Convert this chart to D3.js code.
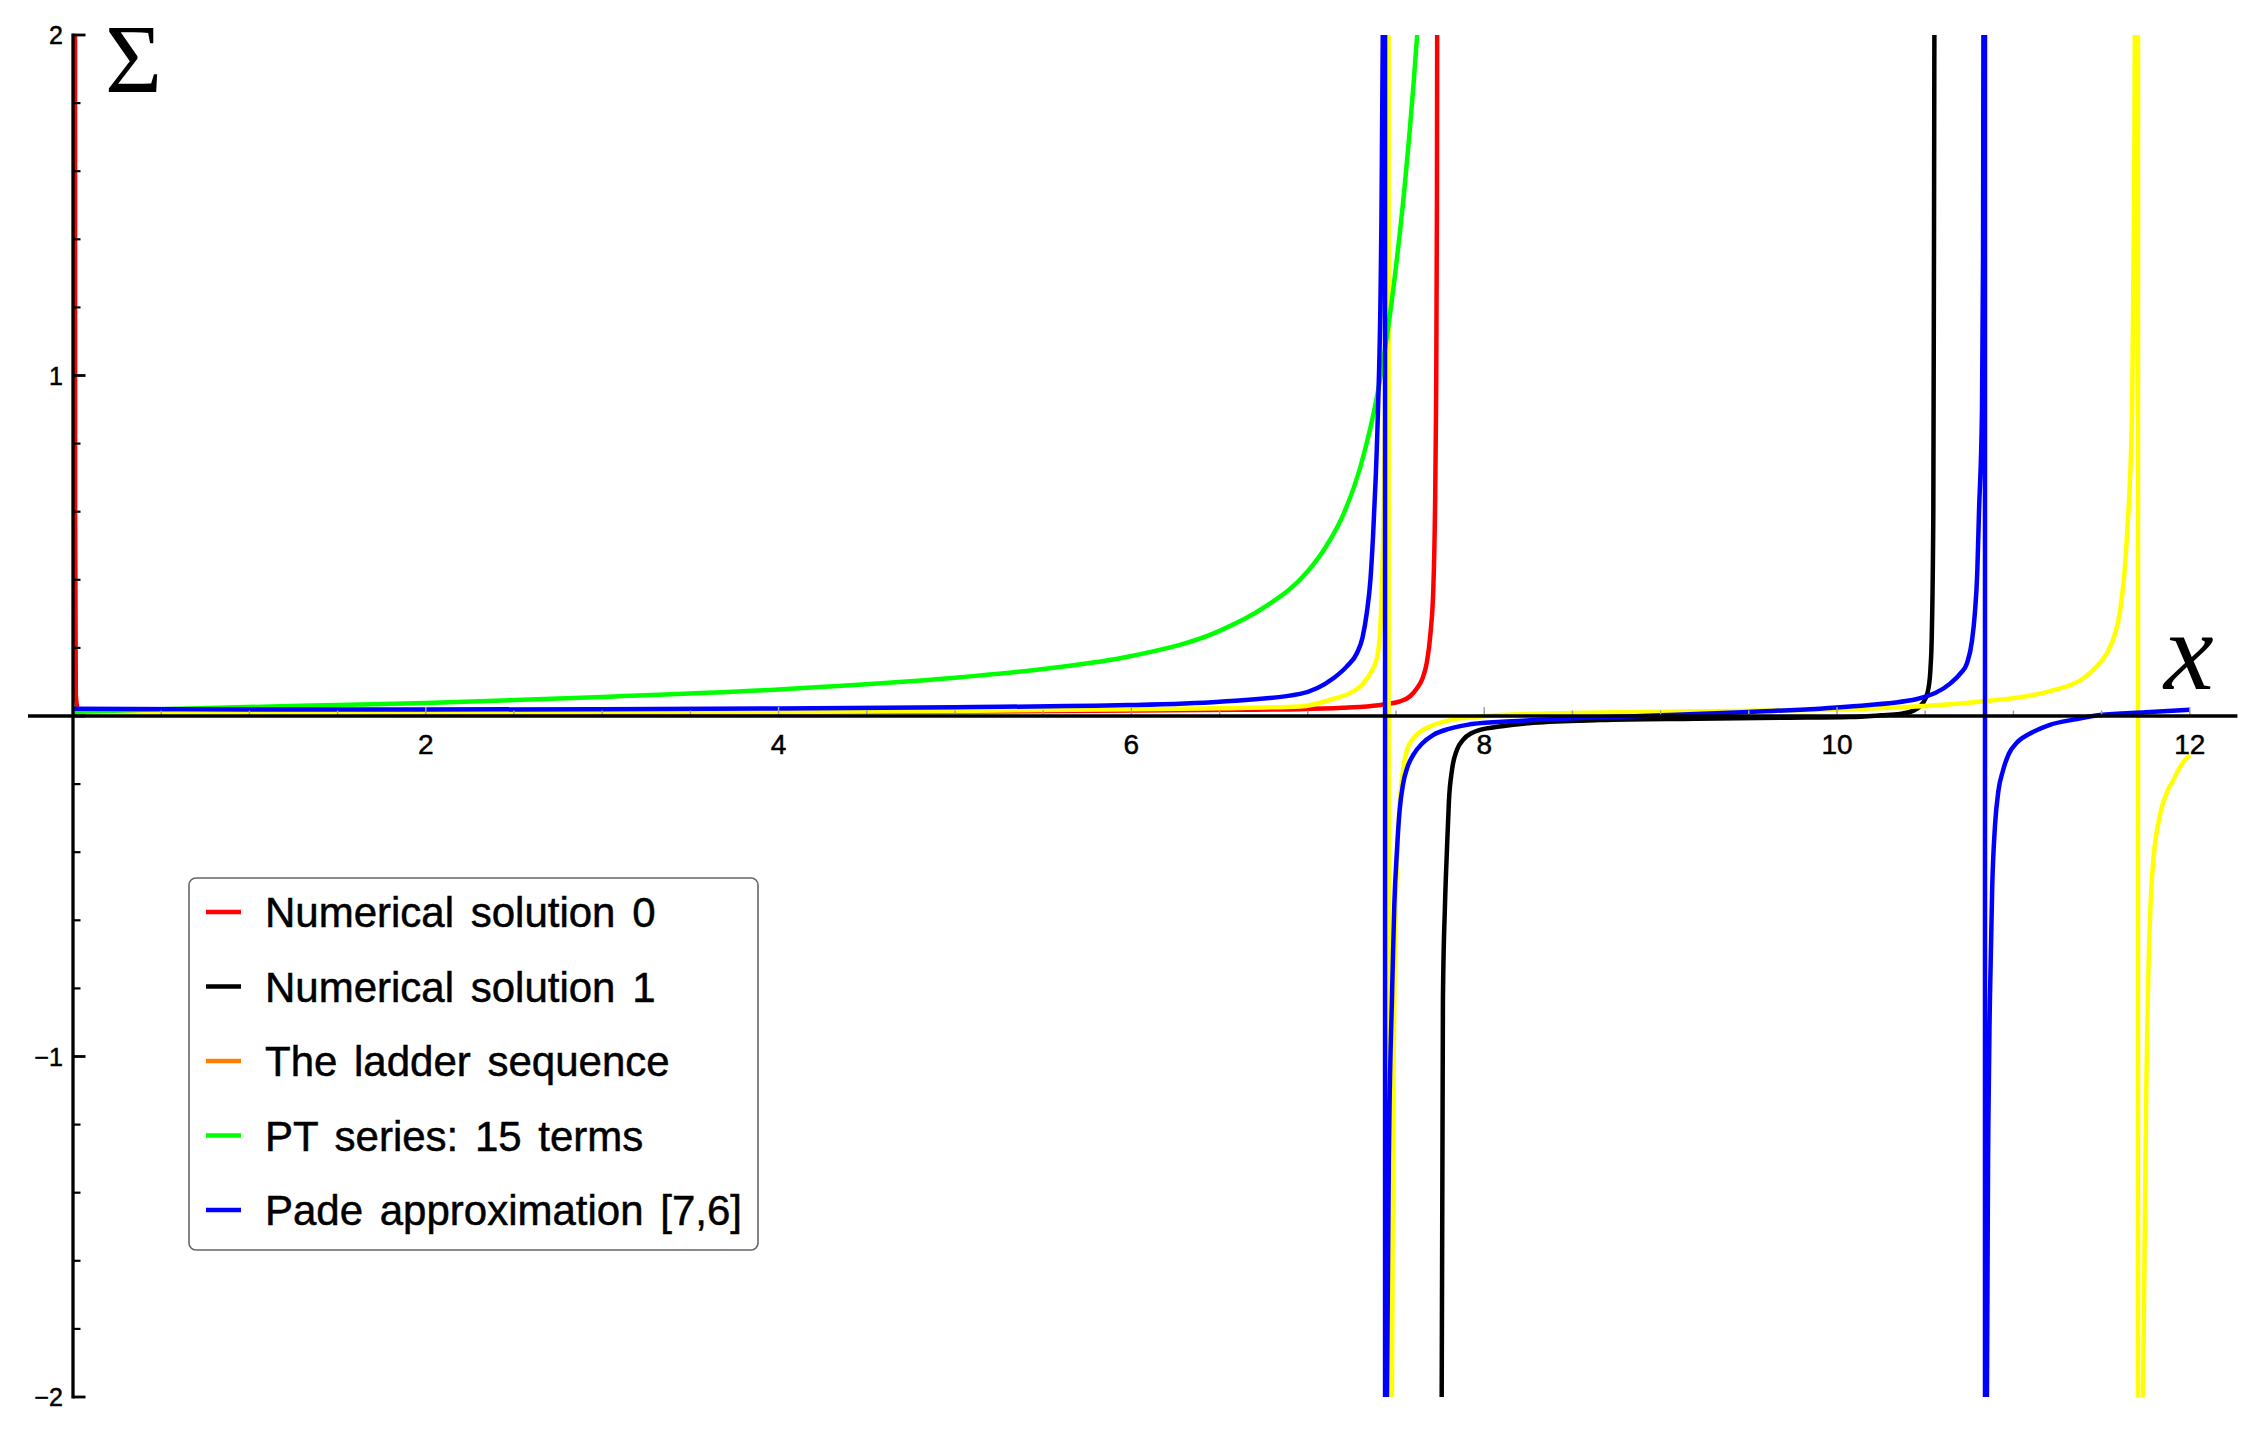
<!DOCTYPE html>
<html><head><meta charset="utf-8">
<script src="https://cdn.jsdelivr.net/npm/d3@7"></script>
<style>body{margin:0;background:#fff;} svg{display:block;}</style>
</head><body><svg id="chart" width="2259" height="1434"></svg>
<script>
// ---------- data ----------
const seriesNames = ["Numerical solution 0", "Numerical solution 1", "The ladder sequence", "PT series: 15 terms", "Pade approximation [7,6]"];
const legendColors = ["#ff0000", "#000000", "#ff8000", "#00ff00", "#0000ff"];
const lineColors = ["#ff0000", "#000000", "#ffff00", "#00ff00", "#0000ff"];
const xTickLabels = [2, 4, 6, 8, 10, 12];
const yTickLabels = [-2, -1, 1, 2];

const numerical0 = [[0.011,3.0],[0.012,0.6],[0.016,0.06],[0.03,0.02],[0.08,0.012],[0.5,0.009],[1,0.008],[2,0.009],[3,0.010],[4,0.011],[5,0.013],[6,0.016],[6.6,0.018],[6.956,0.02],[7.2,0.024],[7.336,0.028],[7.45,0.035],[7.523,0.043],[7.58,0.058],[7.617,0.08],[7.65,0.11],[7.674,0.155],[7.695,0.24],[7.712,0.38],[7.721,0.6],[7.727,0.9],[7.732,1.5],[7.736,3.0]];

const numerical1 = [[7.757,-3.0],[7.759,-2.0],[7.766,-0.834],[7.778,-0.55],[7.789,-0.39],[7.80,-0.25],[7.817,-0.16],[7.845,-0.1],[7.88,-0.07],[7.93,-0.05],[7.976,-0.041],[8.1,-0.03],[8.277,-0.02],[8.656,-0.012],[9.2,-0.008],[9.7,-0.005],[10.074,-0.003],[10.25,0.002],[10.357,0.006],[10.43,0.015],[10.47,0.028],[10.5,0.05],[10.518,0.08],[10.53,0.14],[10.537,0.23],[10.546,0.6],[10.549,1.2],[10.552,2.0],[10.554,3.0]];

const ladder = [[0,0.008],[1,0.009],[2,0.01],[3,0.011],[4,0.012],[5,0.015],[6,0.02],[6.5,0.023],[6.956,0.028],[7.143,0.05],[7.25,0.07],[7.313,0.095],[7.36,0.13],[7.392,0.17],[7.41,0.25],[7.42,0.38],[7.44,1.0],[7.455,3],[7.457,60],[7.459,-60],[7.468,-3],[7.477,-1.99],[7.485,-1.1],[7.494,-0.69],[7.506,-0.42],[7.522,-0.25],[7.54,-0.16],[7.562,-0.1],[7.6,-0.065],[7.653,-0.041],[7.72,-0.025],[7.806,-0.012],[7.95,-0.003],[8.09,0.003],[8.656,0.01],[9.4,0.015],[10.074,0.02],[10.828,0.043],[11.207,0.073],[11.395,0.11],[11.48,0.15],[11.531,0.185],[11.575,0.24],[11.604,0.305],[11.644,0.53],[11.673,0.9],[11.684,1.5],[11.695,3],[11.705,60],[11.708,-60],[11.725,-3],[11.735,-1.99],[11.757,-0.98],[11.786,-0.47],[11.831,-0.29],[11.87,-0.225],[11.905,-0.19],[11.95,-0.145],[12.0,-0.115]];

const ptSeries = [[0,0.012],[0.5,0.02],[1.29,0.03],[2,0.038],[3,0.056],[4,0.078],[5,0.112],[5.5,0.138],[6,0.176],[6.5,0.25],[6.75,0.318],[7.0,0.425],[7.1,0.495],[7.2,0.59],[7.3,0.735],[7.4,0.96],[7.45,1.12],[7.5,1.32],[7.55,1.56],[7.6,1.86],[7.62,2.0],[7.65,2.25]];

const pade = [[0,0.021],[1,0.019],[2,0.019],[3,0.02],[4,0.022],[5,0.026],[5.98,0.032],[6.5,0.042],[6.956,0.065],[7.143,0.11],[7.22,0.145],[7.279,0.185],[7.31,0.23],[7.335,0.305],[7.355,0.4],[7.37,0.53],[7.385,0.7],[7.398,0.9],[7.415,1.35],[7.425,2],[7.432,4],[7.437,60],[7.439,-60],[7.445,-3],[7.449,-1.99],[7.462,-1.2],[7.477,-0.83],[7.49,-0.56],[7.506,-0.39],[7.52,-0.28],[7.54,-0.2],[7.565,-0.15],[7.597,-0.115],[7.65,-0.08],[7.71,-0.056],[7.8,-0.038],[7.902,-0.026],[8.1,-0.017],[8.277,-0.012],[8.656,-0.004],[9.0,0.002],[9.5,0.012],[10.074,0.028],[10.454,0.05],[10.641,0.095],[10.7,0.125],[10.737,0.155],[10.765,0.22],[10.782,0.305],[10.795,0.42],[10.805,0.6],[10.822,0.9],[10.828,1.35],[10.833,3],[10.838,60],[10.84,-60],[10.846,-3],[10.85,-1.99],[10.858,-1.2],[10.867,-0.83],[10.88,-0.5],[10.896,-0.32],[10.915,-0.22],[10.941,-0.16],[10.975,-0.11],[11.02,-0.078],[11.1,-0.05],[11.207,-0.026],[11.35,-0.01],[11.491,0.003],[11.75,0.011],[12.0,0.018]];

const allSeries = [numerical0, numerical1, ladder, ptSeries, pade];

// ---------- drawing ----------
const svg = d3.select("#chart");
const x = d3.scaleLinear().domain([0, 12]).range([73, 73 + 12 * 176.4]);
const y = d3.scaleLinear().domain([-2, 2]).range([1397, 35]);

svg.append("defs").append("clipPath").attr("id", "plotclip")
  .append("rect")
  .attr("x", x(-0.3)).attr("y", y(2))
  .attr("width", x(12.3) - x(-0.3)).attr("height", y(-2) - y(2));

const line = d3.line().x(d => x(d[0])).y(d => y(d[1])).curve(d3.curveMonotoneX);

const plot = svg.append("g").attr("clip-path", "url(#plotclip)");
allSeries.forEach((s, i) => {
  plot.append("path").datum(s)
    .attr("d", line)
    .attr("fill", "none")
    .attr("stroke", lineColors[i])
    .attr("stroke-width", 4.5)
    .attr("stroke-linejoin", "round");
});

// x-axis ticks (gray, pointing up)
const axes = svg.append("g");
const xMinor = d3.range(0.5, 12.01, 0.5);
axes.selectAll("line.xt").data(xMinor).join("line")
  .attr("x1", d => x(d)).attr("x2", d => x(d))
  .attr("y1", y(0))
  .attr("y2", d => y(0) - (Math.abs(d % 2) < 1e-9 ? 9 : 5.5))
  .attr("stroke", "#a0a0a0").attr("stroke-width", 1.5);

// y-axis ticks (black, pointing right)
const yMinor = d3.range(-2, 2.001, 0.2).map(v => Math.round(v * 10) / 10);
axes.selectAll("line.yt").data(yMinor).join("line")
  .attr("x1", x(0)).attr("x2", d => x(0) + (Math.abs(d - Math.round(d)) < 1e-9 ? 12.5 : 7.5))
  .attr("y1", d => y(d)).attr("y2", d => y(d))
  .attr("stroke", "#000")
  .attr("stroke-width", d => (Math.abs(d - Math.round(d)) < 1e-9 ? 2.8 : 2.2));

// axis lines
axes.append("line")
  .attr("x1", x(-0.255)).attr("x2", x(12.27))
  .attr("y1", y(0)).attr("y2", y(0))
  .attr("stroke", "#000").attr("stroke-width", 3.3);
axes.append("line")
  .attr("x1", x(0)).attr("x2", x(0))
  .attr("y1", y(2) - 1.4).attr("y2", y(-2) + 1.4)
  .attr("stroke", "#000").attr("stroke-width", 3.3);

// tick labels
const fmt = d3.format("d");
axes.selectAll("text.xl").data(xTickLabels).join("text")
  .attr("x", d => x(d)).attr("y", y(0) + 38)
  .attr("text-anchor", "middle")
  .attr("font-family", "'Liberation Sans', Arial, sans-serif")
  .attr("font-size", 28)
  .attr("stroke", "#000").attr("stroke-width", 0.5)
  .text(d => fmt(d));
axes.selectAll("text.yl").data(yTickLabels).join("text")
  .attr("x", x(0) - 10).attr("y", d => y(d) + 9)
  .attr("text-anchor", "end")
  .attr("font-family", "'Liberation Sans', Arial, sans-serif")
  .attr("font-size", 25)
  .attr("stroke", "#000").attr("stroke-width", 0.5)
  .text(d => fmt(d));

// axis labels
svg.append("text")
  .attr("x", 105).attr("y", 92)
  .attr("font-family", "'Liberation Serif', 'DejaVu Serif', serif")
  .attr("font-size", 98)
  .text("\u03A3");
svg.append("text")
  .attr("x", 2164).attr("y", 689)
  .attr("font-family", "'Liberation Serif', 'DejaVu Serif', serif")
  .attr("font-style", "italic")
  .attr("font-size", 112)
  .text("x");

// legend
const lg = svg.append("g");
lg.append("rect")
  .attr("x", 189).attr("y", 878).attr("width", 569).attr("height", 372)
  .attr("rx", 7).attr("ry", 7)
  .attr("fill", "#fff").attr("stroke", "#666").attr("stroke-width", 1.6);
const rowY = i => 912 + i * 74.5;
seriesNames.forEach((name, i) => {
  lg.append("line")
    .attr("x1", 206).attr("x2", 241)
    .attr("y1", rowY(i)).attr("y2", rowY(i))
    .attr("stroke", legendColors[i]).attr("stroke-width", 4.5);
  lg.append("text")
    .attr("x", 265).attr("y", rowY(i) + 15)
    .attr("font-family", "'Liberation Sans', Arial, sans-serif")
    .attr("font-size", 42)
    .attr("word-spacing", 5)
    .attr("stroke", "#000").attr("stroke-width", 0.5)
    .text(name);
});
</script>
</body></html>
